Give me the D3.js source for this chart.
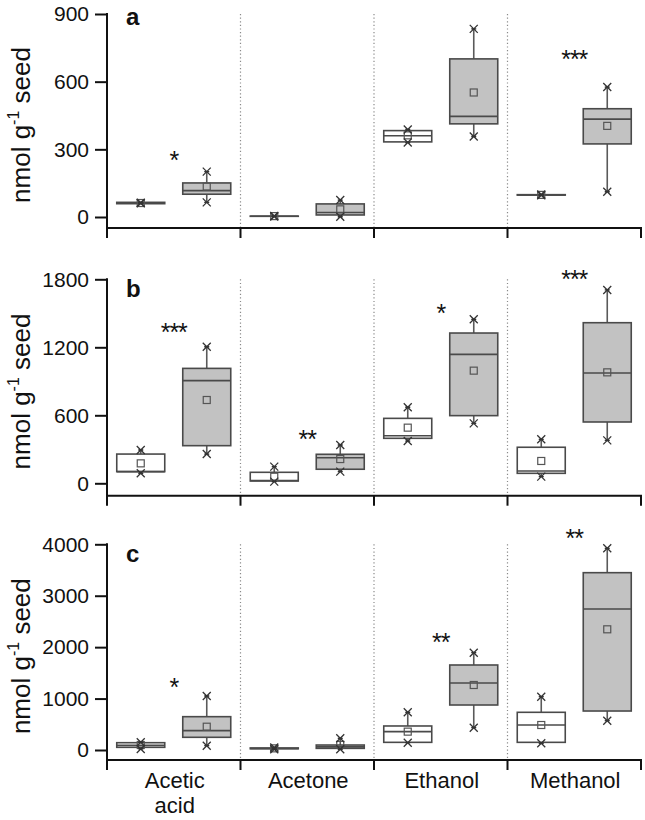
<!DOCTYPE html>
<html><head><meta charset="utf-8">
<script src="https://cdn.jsdelivr.net/npm/d3@7"></script>
<style>body{margin:0;background:#fff}svg{display:block}text{font-family:"Liberation Sans",Arial,sans-serif}</style>
</head><body>
<svg id="c" width="645" height="820"></svg>
<script>
// Data: each stat row = [min, q1, median, q3, max, mean]
const categories = ["Acetic acid", "Acetone", "Ethanol", "Methanol"];
const panelLabels = ["a", "b", "c"];
const yTicksA = [0, 300, 600, 900];
const yTicksB = [0, 600, 1200, 1800];
const yTicksC = [0, 1000, 2000, 3000, 4000];

const aWhite = [[61,59,62,65,63,62],[2,3,3,4,5,4],[330,333,360,383,388,362],[96,97,98,99,100,98]];
const aGray  = [[65,101,117,151,201,135],[1,9,20,58,75,34],[357,413,446,701,834,552],[112,324,434,480,576,404]];
const aSig   = ["*", "", "", "***"];
const aSigY  = [271, 0, 0, 720];

const bWhite = [[88,103,103,258,294,176],[15,20,25,97,147,58],[373,397,420,573,671,491],[59,88,108,318,388,197]];
const bGray  = [[258,332,906,1014,1205,735],[103,124,226,256,338,214],[529,597,1138,1326,1447,994],[379,541,973,1417,1706,979]];
const bSig   = ["***", "**", "*", "***"];
const bSigY  = [1370, 426, 1538, 1838];

const cWhite = [[20,52,90,142,150,97],[15,24,30,40,50,32],[142,149,357,467,733,357],[130,149,486,733,1037,486]];
const cGray  = [[84,247,376,648,1050,453],[13,32,60,97,227,100],[434,875,1303,1653,1892,1264],[570,758,2742,3448,3922,2347]];
const cSig   = ["*", "", "**", "**"];
const cSigY  = [1297, 0, 2184, 4200];

const panels = [
  {label: panelLabels[0], ticks: yTicksA, white: aWhite, gray: aGray, sig: aSig, sigY: aSigY, top: 14, zero: 217, axis: 228},
  {label: panelLabels[1], ticks: yTicksB, white: bWhite, gray: bGray, sig: bSig, sigY: bSigY, top: 279.3, zero: 483.3, axis: 495.7},
  {label: panelLabels[2], ticks: yTicksC, white: cWhite, gray: cGray, sig: cSig, sigY: cSigY, top: 544.3, zero: 750, axis: 760}
];

const svg = d3.select("#c");
const left = 107, right = 641;
const x = d3.scaleBand().domain(categories).range([left, right]);
const boxW = 48, off = 33;
const edgeCol = "#4a4a4a";

panels.forEach((p, pi) => {
  const ymax = p.ticks[p.ticks.length - 1];
  const y = d3.scaleLinear().domain([0, ymax]).range([p.zero, p.top]);
  const g = svg.append("g");

  // dotted separators
  categories.slice(1).forEach(c => {
    g.append("line").attr("x1", x(c)).attr("x2", x(c)).attr("y1", p.top).attr("y2", p.axis)
      .attr("stroke", "#8a8a8a").attr("stroke-width", 1.2).attr("stroke-dasharray", "1.2,2.4");
  });

  // y axis
  const yAxis = d3.axisLeft(y).tickValues(p.ticks).tickSize(12).tickPadding(6).tickFormat(d3.format("d"));
  const ya = g.append("g").attr("transform", `translate(${left},0)`).call(yAxis);
  ya.select(".domain").remove();
  ya.selectAll(".tick line").attr("stroke", "#111").attr("stroke-width", 2);
  ya.selectAll(".tick text").attr("font-size", 21).attr("fill", "#111")
    .attr("font-family", "Liberation Sans, Arial, sans-serif");
  g.append("line").attr("x1", left).attr("x2", left).attr("y1", p.top - 1).attr("y2", p.axis + 1)
    .attr("stroke", "#111").attr("stroke-width", 2);

  // x axis line with boundary ticks
  g.append("line").attr("x1", left - 1).attr("x2", right + 1).attr("y1", p.axis).attr("y2", p.axis)
    .attr("stroke", "#111").attr("stroke-width", 2);
  const bounds = categories.map(c => x(c)).concat([right]);
  bounds.forEach(bx => {
    g.append("line").attr("x1", bx).attr("x2", bx).attr("y1", p.axis).attr("y2", p.axis + 10)
      .attr("stroke", "#111").attr("stroke-width", 2);
  });

  // panel letter
  g.append("text").attr("x", 126).attr("y", p.top + (pi === 0 ? 11 : 18)).attr("font-size", 24)
    .attr("font-weight", "bold").attr("fill", "#111").text(p.label);

  // y label
  const cy = (p.top + p.axis) / 2 + 4;
  const t = g.append("text").attr("transform", `translate(30,${cy}) rotate(-90)`)
    .attr("text-anchor", "middle").attr("font-size", 26).attr("fill", "#111");
  t.append("tspan").text("nmol g");
  t.append("tspan").attr("font-size", 16).attr("dy", -11).text("-1");
  t.append("tspan").attr("dy", 11).text(" seed");

  // boxes
  const drawBox = (s, cx, fill) => {
    const [mn, q1, md, q3, mx, mean] = s;
    const bg = g.append("g");
    // whiskers
    bg.append("line").attr("x1", cx).attr("x2", cx).attr("y1", y(mx)).attr("y2", y(q3))
      .attr("stroke", "#5a5a5a").attr("stroke-width", 1.6);
    bg.append("line").attr("x1", cx).attr("x2", cx).attr("y1", y(q1)).attr("y2", y(mn))
      .attr("stroke", "#5a5a5a").attr("stroke-width", 1.6);
    bg.append("rect").attr("x", cx - boxW / 2).attr("y", y(q3)).attr("width", boxW)
      .attr("height", Math.max(0, y(q1) - y(q3))).attr("fill", fill)
      .attr("stroke", edgeCol).attr("stroke-width", 1.6);
    bg.append("line").attr("x1", cx - boxW / 2).attr("x2", cx + boxW / 2).attr("y1", y(md)).attr("y2", y(md))
      .attr("stroke", edgeCol).attr("stroke-width", 1.6);
    // mean square
    bg.append("rect").attr("x", cx - 3.5).attr("y", y(mean) - 3.5).attr("width", 7).attr("height", 7)
      .attr("fill", "none").attr("stroke", "#555").attr("stroke-width", 1.2);
    // min/max markers
    [mn, mx].forEach(v => {
      const yy = y(v), r = 4;
      bg.append("path").attr("d", `M${cx - r},${yy - r}L${cx + r},${yy + r}M${cx - r},${yy + r}L${cx + r},${yy - r}M${cx - 2.5},${yy}L${cx + 2.5},${yy}`)
        .attr("stroke", "#333").attr("stroke-width", 1.3).attr("fill", "none");
    });
  };
  categories.forEach((c, i) => {
    const cx = x(c) + x.bandwidth() / 2;
    drawBox(p.white[i], cx - off, "#ffffff");
    drawBox(p.gray[i], cx + off, "#c2c2c2");
    if (p.sig[i]) {
      g.append("text").attr("x", cx).attr("y", y(p.sigY[i]) + 13).attr("text-anchor", "middle")
        .attr("font-size", 25).attr("fill", "#111").attr("letter-spacing", -1).text(p.sig[i]);
    }
  });
});

// category labels (bottom panel only)
const lastAxis = panels[2].axis;
categories.forEach(c => {
  const cx = x(c) + x.bandwidth() / 2;
  const parts = c === "Acetic acid" ? ["Acetic", "acid"] : [c];
  parts.forEach((s, k) => {
    svg.append("text").attr("x", cx + 1).attr("y", lastAxis + 28 + k * 25).attr("text-anchor", "middle")
      .attr("font-size", 22).attr("fill", "#111").text(s);
  });
});
</script>
</body></html>
